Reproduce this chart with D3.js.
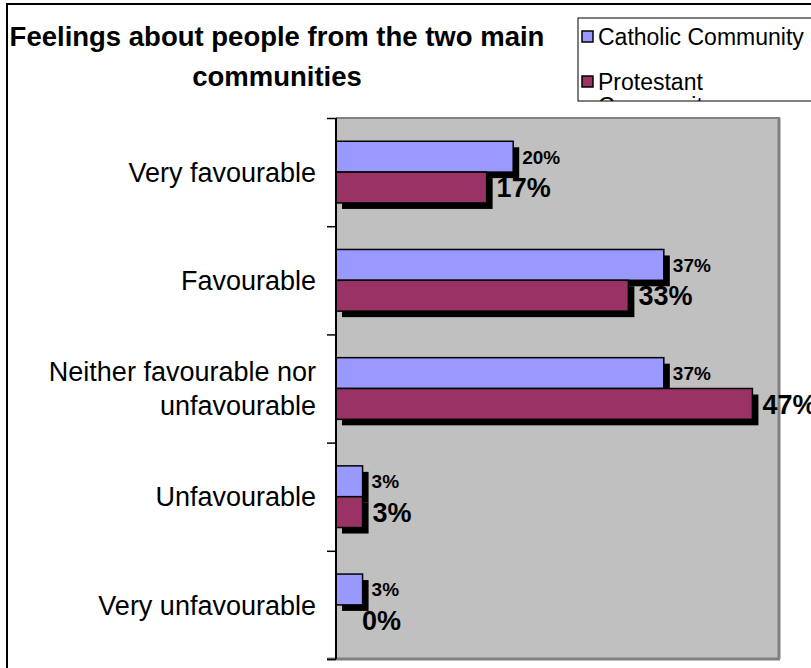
<!DOCTYPE html>
<html><head><meta charset="utf-8">
<script src="https://cdn.jsdelivr.net/npm/d3@7"></script>
<style>body{margin:0;background:#fff;overflow:hidden;} text{font-family:"Liberation Sans",Arial,sans-serif;}</style>
</head><body><svg id="c" width="811" height="668"></svg>
<script>
const categories = ["Very favourable","Favourable","Neither favourable nor|unfavourable","Unfavourable","Very unfavourable"];
const seriesNames = ["Catholic Community","Protestant Community"];
const catholic = [20,37,37,3,3];
const protestant = [17,33,47,3,0];
const seriesColors = ["#9999FF","#993366"];
const titleLines = ["Feelings about people from the two main","communities"];

const svg = d3.select("#c");
const plot = {left:336, top:118, right:779, bottom:659};

// outer chart border
svg.append("rect").attr("x",7).attr("y",4).attr("width",900).attr("height",800)
  .attr("fill","#fff").attr("stroke","#000").attr("stroke-width",2);

const x = d3.scaleLinear().domain([0,50]).range([plot.left, plot.right]);
const y = d3.scaleBand().domain(categories).range([plot.top, plot.bottom]).paddingInner(0.43).paddingOuter(0.215);

// plot background
svg.append("rect").attr("x",plot.left).attr("y",plot.top)
  .attr("width",plot.right-plot.left).attr("height",plot.bottom-plot.top)
  .attr("fill","#C0C0C0");
// plot border (gray)
svg.append("line").attr("x1",plot.left).attr("x2",plot.right+1).attr("y1",plot.top).attr("y2",plot.top).attr("stroke","#808080").attr("stroke-width",2);
svg.append("line").attr("x1",plot.right).attr("x2",plot.right).attr("y1",plot.top).attr("y2",plot.bottom).attr("stroke","#808080").attr("stroke-width",3);
svg.append("line").attr("x1",plot.left-9).attr("x2",plot.right+1).attr("y1",plot.bottom).attr("y2",plot.bottom).attr("stroke","#808080").attr("stroke-width",3);

const data = categories.map((c,i)=>({cat:c, vals:[catholic[i], protestant[i]]}));
const sub = d3.scaleBand().domain([0,1]).range([0, y.bandwidth()]);

const g = svg.append("g");
const shadowOff = 6;
data.forEach(d=>{
  d.vals.forEach((v,s)=>{
    if (v<=0) return;
    g.append("rect").attr("x",x(0)+shadowOff).attr("y",y(d.cat)+sub(s)+shadowOff)
      .attr("width",x(v)-x(0)).attr("height",sub.bandwidth()).attr("fill","#000");
  });
});
data.forEach(d=>{
  d.vals.forEach((v,s)=>{
    if (v<=0) return;
    g.append("rect").attr("x",x(0)).attr("y",y(d.cat)+sub(s))
      .attr("width",x(v)-x(0)).attr("height",sub.bandwidth())
      .attr("fill",seriesColors[s]).attr("stroke","#000").attr("stroke-width",1.5);
  });
});
// value labels
data.forEach(d=>{
  d.vals.forEach((v,s)=>{
    const lx = Math.max(x(v)+ (s===0?9:10), x(0)+26);
    g.append("text").attr("x",lx).attr("y",y(d.cat)+sub(s)+sub.bandwidth()/2)
      .attr("dy","0.36em").attr("font-weight","bold")
      .attr("font-size", s===0?19:27).attr("fill","#000").text(v+"%");
  });
});

// category axis
const yAxisScale = d3.scaleLinear().domain([0,categories.length]).range([plot.top, plot.bottom]);
const ax = svg.append("g").attr("transform",`translate(${plot.left},0)`)
  .call(d3.axisLeft(yAxisScale).tickValues(d3.range(0,categories.length+1)).tickSize(9).tickFormat(""));
ax.select(".domain").attr("stroke","#000").attr("stroke-width",2).attr("d",`M0,${plot.top}V${plot.bottom}`);
ax.selectAll(".tick line").attr("stroke","#000").attr("stroke-width",1.5);

// category labels
categories.forEach(c=>{
  const lines = c.split("|");
  const cy = y(c)+y.bandwidth()/2;
  const lh = 34;
  const t = svg.append("text").attr("text-anchor","end").attr("font-size",27).attr("fill","#000");
  lines.forEach((ln,i)=>{
    t.append("tspan").attr("x",plot.left-20).attr("y",cy + (i-(lines.length-1)/2)*lh).attr("dy","0.36em").text(ln);
  });
});

// title
titleLines.forEach((ln,i)=>{
  svg.append("text").attr("x",277).attr("y",36+i*40).attr("dy","0.36em").attr("text-anchor","middle")
    .attr("font-weight","bold").attr("font-size",27.5).attr("fill","#000").text(ln);
});

// legend
const leg = svg.append("g");
const clip = svg.append("clipPath").attr("id","legclip");
clip.append("rect").attr("x",578).attr("y",18).attr("width",300).attr("height",83);
leg.append("rect").attr("x",578).attr("y",18).attr("width",300).attr("height",83)
  .attr("fill","#fff").attr("stroke","#000").attr("stroke-width",1);
const li = leg.append("g").attr("clip-path","url(#legclip)");
const legendItems = [{name:["Catholic Community"], y:37},{name:["Protestant","Community"], y:82}];
legendItems.forEach((it,i)=>{
  li.append("rect").attr("x",582).attr("y",it.y-6).attr("width",11).attr("height",11)
    .attr("fill",seriesColors[i]).attr("stroke","#000").attr("stroke-width",1.5);
  const t = li.append("text").attr("font-size",23).attr("fill","#000");
  it.name.forEach((n,k)=>{
    t.append("tspan").attr("x",598).attr("y",it.y + k*24).attr("dy","0.36em").text(n);
  });
});
</script></body></html>
